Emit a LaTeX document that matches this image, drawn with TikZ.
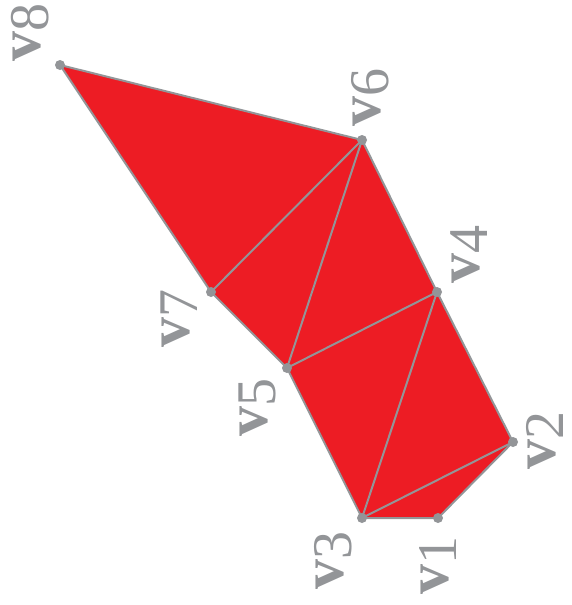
\documentclass[tikz,border=0pt]{standalone}
\usepackage{fontspec}
\setmainfont{Liberation Serif}
\definecolor{pred}{RGB}{237,28,36}
\definecolor{pgray}{RGB}{147,149,152}
\newcommand{\vlab}[1]{{\fontsize{60}{60}\selectfont\bfseries v}{\fontsize{56}{56}\selectfont\raisebox{-8pt}{#1}}}
\tikzset{
  edge/.style={draw=pgray, line width=2pt, line join=round},
  dot/.style={circle, fill=pgray, inner sep=0pt, minimum size=10pt},
  vl/.style={text=pgray, rotate=90, inner sep=0pt, anchor=center}
}
\begin{document}
\begin{tikzpicture}[x=1pt,y=-1pt]
\useasboundingbox (0,0) rectangle (572,605);
\coordinate (v1) at (438,518);
\coordinate (v2) at (513,442);
\coordinate (v3) at (362,518);
\coordinate (v4) at (437,292);
\coordinate (v5) at (287,368);
\coordinate (v6) at (362,140);
\coordinate (v7) at (211,292);
\coordinate (v8) at (60,65);
\fill[pred] (v1) -- (v2) -- (v4) -- (v6) -- (v8) -- (v7) -- (v5) -- (v3) -- cycle;
\draw[edge] (v1) -- (v2) -- (v4) -- (v6) -- (v8) -- (v7) -- (v5) -- (v3) -- cycle;
\draw[edge] (v3) -- (v2);
\draw[edge] (v3) -- (v4);
\draw[edge] (v5) -- (v4);
\draw[edge] (v5) -- (v6);
\draw[edge] (v7) -- (v6);
\foreach \p in {v1,v2,v3,v4,v5,v6,v7,v8} \node[dot] (d\p) at (\p) {};
\node[vl] (l1) at (438,565) {\vlab{1}};
\node[vl] (l2) at (545,440) {\vlab{2}};
\node[vl] (l3) at (333,560) {\vlab{3}};
\node[vl] (l4) at (469,254) {\vlab{4}};
\node[vl] (l5) at (257,407) {\vlab{5}};
\node[vl] (l6) at (370,97) {\vlab{6}};
\node[vl] (l7) at (179,318) {\vlab{7}};
\node[vl] (l8) at (30,32) {\vlab{8}};
\end{tikzpicture}
\end{document}
